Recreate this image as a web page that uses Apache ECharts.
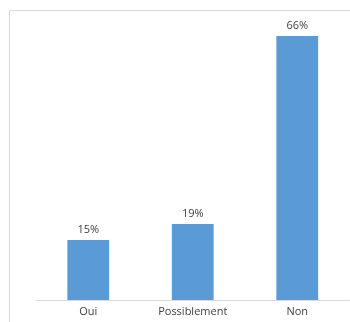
<!DOCTYPE html>
<html>
<head>
<meta charset="utf-8">
<script src="https://cdn.jsdelivr.net/npm/echarts@6/dist/echarts.min.js"></script>
<style>html,body{margin:0;padding:0;background:#fff;}#c{width:350px;height:322px;}</style>
</head>
<body>
<div id="c"></div>
<script>
const categories = ['Oui', 'Possiblement', 'Non'];
const values = [15, 19, 66];

const chart = echarts.init(document.getElementById('c'), null, {renderer: 'canvas'});
chart.setOption({
  animation: false,
  backgroundColor: '#ffffff',
  graphic: [{
    type: 'rect',
    shape: {x: 9.5, y: 10.5, width: 400, height: 400},
    style: {fill: 'none', stroke: '#d9d9d9', lineWidth: 1},
    silent: true
  }],
  grid: {left: 36, right: 0.5, top: 20, bottom: 22, containLabel: false},
  xAxis: {
    type: 'category',
    data: categories,
    axisLine: {lineStyle: {color: '#d9d9d9', width: 1}},
    axisTick: {show: false},
    axisLabel: {color: '#404040', fontSize: 11, fontFamily: 'Open Sans', margin: 6}
  },
  yAxis: {
    type: 'value', min: 0, max: 70,
    show: false,
    splitLine: {show: false}
  },
  series: [{
    type: 'bar',
    data: values,
    barWidth: '40%',
    itemStyle: {color: '#5b9bd5'},
    label: {
      show: true, position: 'top', distance: 5,
      formatter: '{c}%', color: '#404040', fontSize: 11, fontFamily: 'Open Sans'
    }
  }]
});
</script>
</body>
</html>
